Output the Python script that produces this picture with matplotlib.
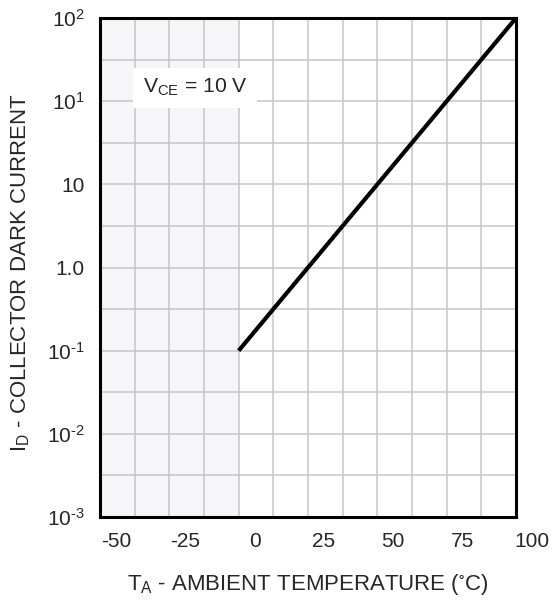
" Collector dark current vs ambient temperature "

import matplotlib
matplotlib.use("Agg")
import matplotlib.pyplot as plt
import matplotlib.ticker as mticker
import matplotlib.transforms as mtransforms

plt.rcParams["font.family"] = ["Liberation Sans", "DejaVu Sans"]
plt.rcParams["mathtext.fontset"] = "custom"
plt.rcParams["mathtext.rm"] = "Liberation Sans"
plt.rcParams["mathtext.it"] = "Liberation Sans"
plt.rcParams["axes.unicode_minus"] = False

# data
temp_c = [0, 100]
dark_current = [1e-2, 1e2]

x_ticks = [-50, -25, 0, 25, 50, 75, 100]
x_grid = [-50 + 12.5 * i for i in range(13)]
y_ticks = [1e-4, 1e-3, 1e-2, 1e-1, 1e0, 1e1, 1e2]
y_ticklabels = [
    r"$\mathregular{10^{\text{-}3}}$",
    r"$\mathregular{10^{\text{-}2}}$",
    r"$\mathregular{10^{\text{-}1}}$",
    "1.0",
    "10",
    r"$\mathregular{10^{1}}$",
    r"$\mathregular{10^{2}}$",
]
y_minor = [10 ** (k + 0.5) for k in range(-4, 2)]

text_color = "#262626"

fig = plt.figure(figsize=(5.53, 6.03), dpi=100)
ax = fig.add_axes([0.1808, 0.1426, 0.7523, 0.8275])

ax.set_xlim(-50, 100)
ax.set_yscale("log")
ax.set_ylim(1e-4, 1e2)

ax.axvspan(-50, 0, color="#f6f5f8", zorder=0, lw=0)

ax.set_xticks(x_grid, minor=True)
ax.set_xticks(x_ticks)
ax.set_yticks(y_ticks)
ax.set_yticklabels(y_ticklabels)
ax.set_yticks(y_minor, minor=True)
ax.yaxis.set_minor_formatter(mticker.NullFormatter())
ax.grid(which="both", color="#c6c6c6", linewidth=1.1)
ax.set_axisbelow(True)
ax.tick_params(which="both", length=0, labelsize=15, colors=text_color)
ax.tick_params(axis="x", pad=11)
ax.tick_params(axis="y", pad=11)

# the printed x labels sit half a cell to the right of the grid lines
shift = mtransforms.ScaledTranslation(0.16, 0, fig.dpi_scale_trans)
for lbl in ax.get_xticklabels():
    lbl.set_transform(lbl.get_transform() + shift)

for spine in ax.spines.values():
    spine.set_linewidth(2.2)
    spine.set_color("black")

ax.plot(temp_c, dark_current, color="black", linewidth=3.0, solid_capstyle="butt",
        clip_on=False, zorder=5)

ax.text(-15.7, 14.5, r"V$_{\mathregular{CE}}$ = 10 V", fontsize=15.2, ha="center",
        va="center", color=text_color,
        bbox=dict(boxstyle="square,pad=0.45", fc="white", ec="none"))

ax.set_xlabel(r"T$_{\mathregular{A}}$ - AMBIENT TEMPERATURE ($\mathregular{^{\circ}}$C)",
              fontsize=16, color=text_color, labelpad=15)
ax.set_ylabel(r"I$_{\mathregular{D}}$ - COLLECTOR DARK CURRENT", fontsize=16,
              color=text_color, va="center")
ax.yaxis.set_label_coords(-0.19, 0.49)

fig.savefig("out.png", dpi=100)
